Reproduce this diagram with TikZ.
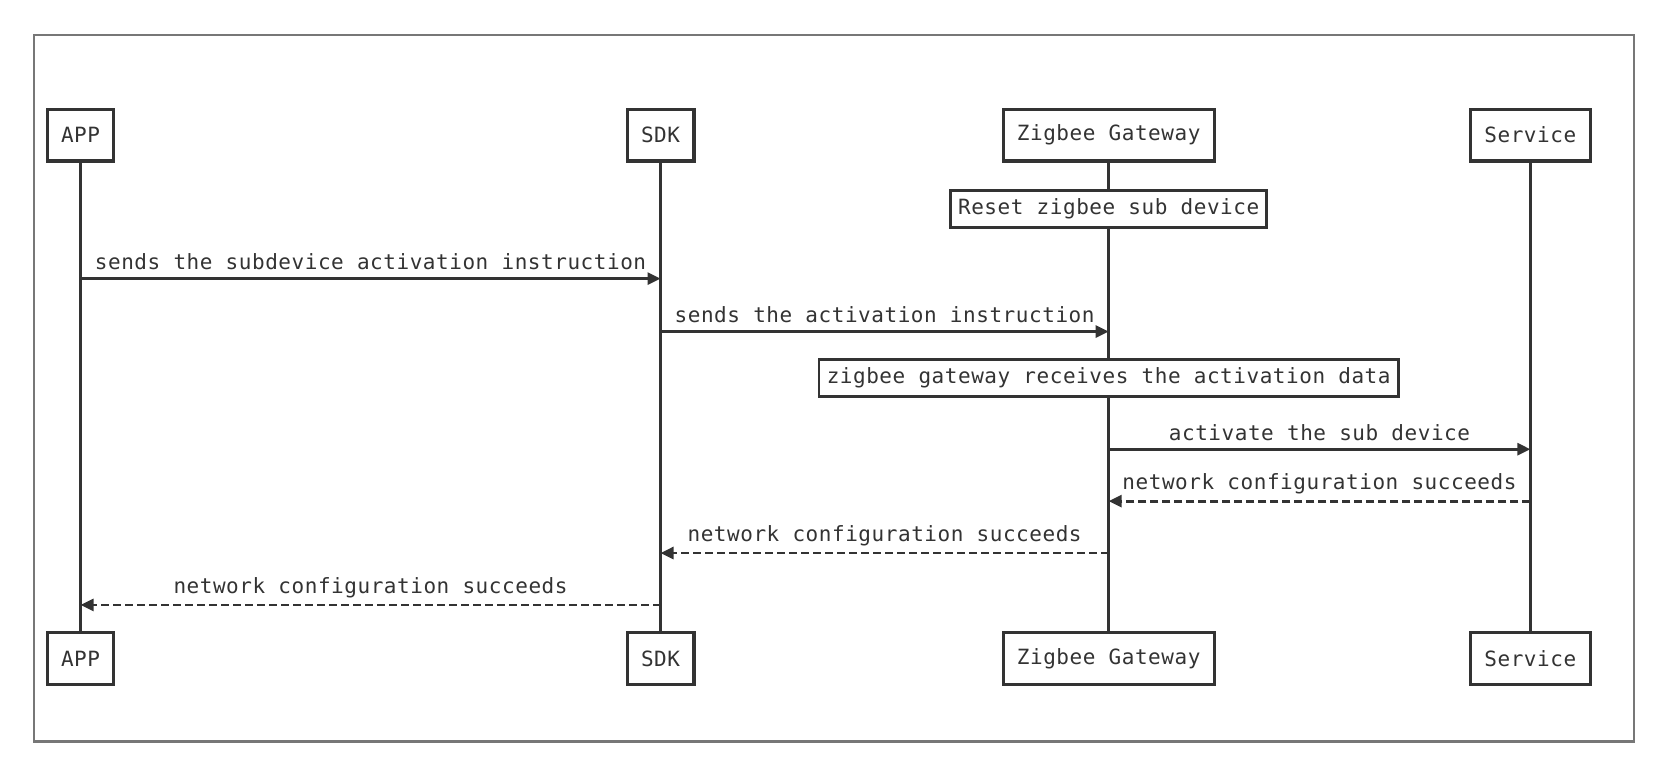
\documentclass[tikz,border=0pt]{standalone}
\usepackage{fontspec}
\setmonofont{DejaVu Sans Mono}[LetterSpace=2.6]
\usetikzlibrary{arrows.meta}
\definecolor{ink}{HTML}{333333}
\definecolor{frame}{HTML}{777777}
\newcommand\pxu{1.0594pt}
\begin{document}
\begin{tikzpicture}[x=\pxu,y=-\pxu,
  txt/.style={font=\ttfamily\fontsize{21}{24}\selectfont, text=ink},
  actor/.style={txt, draw=ink, line width=3.2pt, fill=white, minimum height={49*\pxu}, inner sep=0pt},
  notebox/.style={txt, draw=ink, line width=2.8pt, fill=white, minimum height={35*\pxu}, inner sep=0pt},
  life/.style={draw=ink, line width=2.8pt},
  msg/.style={draw=ink, line width=2.8pt, -{Triangle[length=13pt,width=12pt]}},
  reply/.style={msg, dash pattern=on 8pt off 4pt},
  lbl/.style={txt, inner sep=0pt, anchor=center}]
\useasboundingbox (0,0) rectangle (1566.9,719.3);
\draw[frame, line width=2.2pt] (32,33) rectangle (1542,700);
% actor positions
\coordinate (appTop) at (76,127.5);
\coordinate (appBot) at (76,621.5);
\coordinate (sdkTop) at (623.5,127.5);
\coordinate (sdkBot) at (623.5,621.5);
\coordinate (zgTop) at (1046.5,127.5);
\coordinate (zgBot) at (1046.5,621.5);
\coordinate (svTop) at (1444.5,127.5);
\coordinate (svBot) at (1444.5,621.5);
% lifelines
\draw[life] (appTop) -- (appBot);
\draw[life] (sdkTop) -- (sdkBot);
\draw[life] (zgTop) -- (zgBot);
\draw[life] (svTop) -- (svBot);
% actors
\node[actor, minimum width={63*\pxu}] (app1) at (appTop) {APP};
\node[actor, minimum width={63*\pxu}] (app2) at (appBot) {APP};
\node[actor, minimum width={63*\pxu}] (sdk1) at (sdkTop) {SDK};
\node[actor, minimum width={63*\pxu}] (sdk2) at (sdkBot) {SDK};
\node[actor, minimum width={199*\pxu}] (zg1) at (zgTop) {Zigbee Gateway};
\node[actor, minimum width={199*\pxu}] (zg2) at (zgBot) {Zigbee Gateway};
\node[actor, minimum width={113*\pxu}] (sv1) at (svTop) {Service};
\node[actor, minimum width={113*\pxu}] (sv2) at (svBot) {Service};
% notes
\node[notebox, minimum width={298*\pxu}] (reset) at (1046.5,197) {Reset zigbee sub device};
\node[notebox, minimum width={547*\pxu}] (recv) at (1046.5,357) {zigbee gateway receives the activation data};
% message end points
\coordinate (a1) at (76,263);   \coordinate (s1) at (623.5,263);
\coordinate (s2) at (623.5,313); \coordinate (z2) at (1046.5,313);
\coordinate (z3) at (1046.5,424); \coordinate (v3) at (1444.5,424);
\coordinate (v4) at (1444.5,473); \coordinate (z4) at (1046.5,473);
\coordinate (z5) at (1046.5,522); \coordinate (s5) at (623.5,522);
\coordinate (s6) at (623.5,571); \coordinate (a6) at (76,571);
% messages
\draw[msg] (a1) -- (s1) node[lbl, midway, yshift={16*\pxu}] (l1) {sends the subdevice activation instruction};
\draw[msg] (s2) -- (z2) node[lbl, midway, yshift={16*\pxu}] (l2) {sends the activation instruction};
\draw[msg] (z3) -- (v3) node[lbl, midway, yshift={16*\pxu}] (l3) {activate the sub device};
\draw[reply] (v4) -- (z4) node[lbl, midway, yshift={16*\pxu}] (l4) {network configuration succeeds};
\draw[reply] (z5) -- (s5) node[lbl, midway, yshift={16*\pxu}] (l5) {network configuration succeeds};
\draw[reply] (s6) -- (a6) node[lbl, midway, yshift={16*\pxu}] (l6) {network configuration succeeds};
\end{tikzpicture}
\end{document}
